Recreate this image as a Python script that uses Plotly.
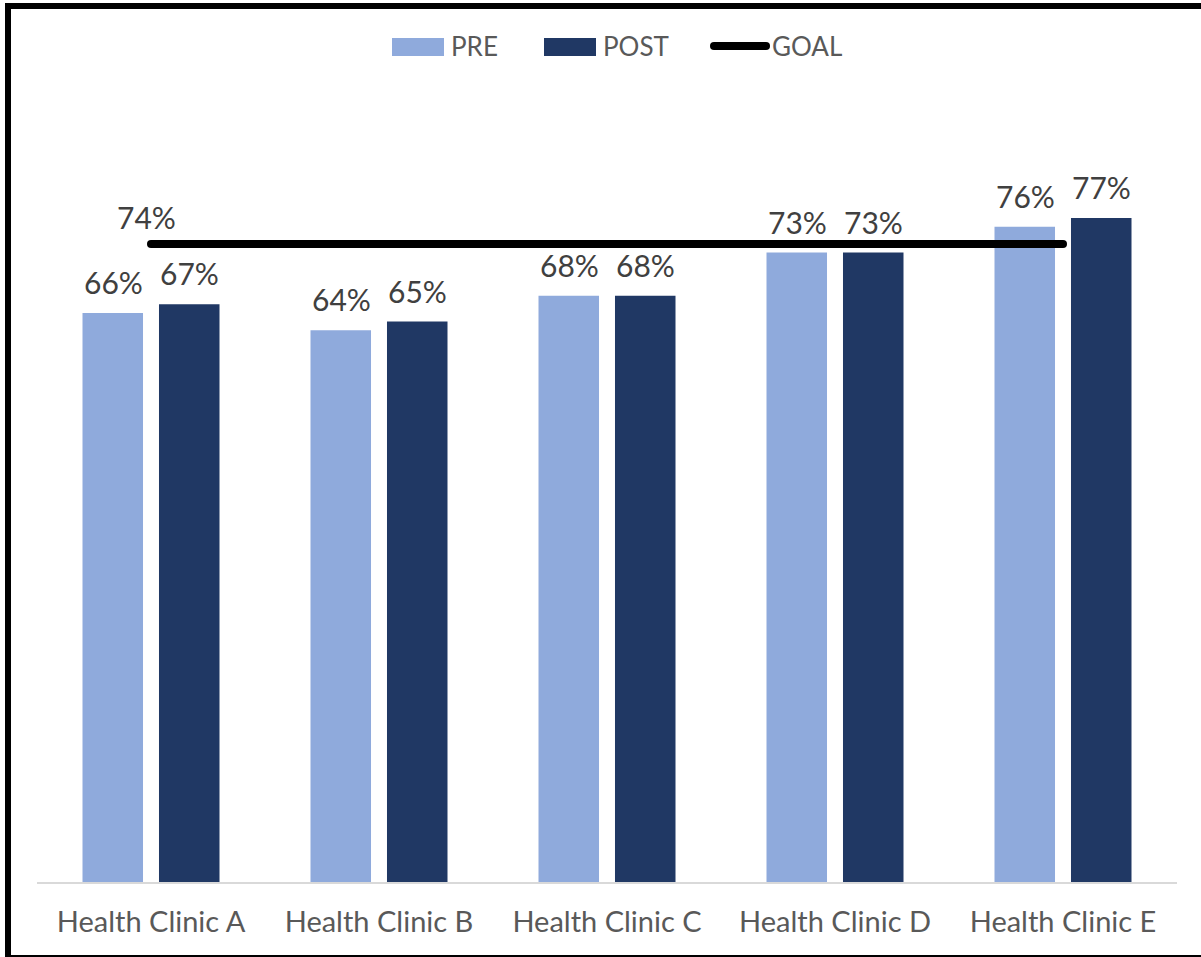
import plotly.graph_objects as go

# ---- data ----
clinics = ["Health Clinic A", "Health Clinic B", "Health Clinic C", "Health Clinic D", "Health Clinic E"]
pre_values = [0.66, 0.64, 0.68, 0.73, 0.76]
post_values = [0.67, 0.65, 0.68, 0.73, 0.77]
goal_value = 0.74
series_names = ["PRE", "POST", "GOAL"]

# ---- style ----
PRE_COLOR = "#8FAADC"
POST_COLOR = "#203864"
GOAL_COLOR = "#000000"
AXIS_TEXT = "#595959"
LABEL_TEXT = "#404040"
FONT = "Lato"

W, H = 1201, 957
ML, MR, MT, MB = 37, 24, 106, 75
PW, PH = W - ML - MR, H - MT - MB


def px_x(px):
    return (px - ML) / PW


def px_y(py):
    return (H - MB - py) / PH


fig = go.Figure()
fig.add_trace(go.Bar(x=clinics, y=pre_values, name=series_names[0],
                     marker=dict(color=PRE_COLOR, line=dict(width=0)), showlegend=False))
fig.add_trace(go.Bar(x=clinics, y=post_values, name=series_names[1],
                     marker=dict(color=POST_COLOR, line=dict(width=0)), showlegend=False))
fig.add_trace(go.Scatter(x=clinics, y=[goal_value] * len(clinics), name=series_names[2],
                         mode="lines+markers", line=dict(color=GOAL_COLOR, width=8),
                         marker=dict(color=GOAL_COLOR, size=8), showlegend=False,
                         cliponaxis=False))

annotations = []
# value labels above each bar
for vals, shift in ((pre_values, -38), (post_values, 38)):
    for c, v in zip(clinics, vals):
        annotations.append(dict(x=c, y=v, xref="x", yref="y", text=f"{v:.0%}",
                                showarrow=False, xshift=shift, yanchor="bottom", yshift=11,
                                font=dict(family=FONT, size=30, color=LABEL_TEXT)))
# goal label on the first point
annotations.append(dict(x=clinics[0], y=goal_value, xref="x", yref="y", text=f"{goal_value:.0%}",
                        showarrow=False, xshift=-5, yanchor="bottom", yshift=7,
                        font=dict(family=FONT, size=30, color=LABEL_TEXT)))

# legend drawn as swatches + text along the top
legend_font = dict(family=FONT, size=26, color=AXIS_TEXT)
shapes = []
for (x0, x1, tx), name, color in (((392, 444, 449), series_names[0], PRE_COLOR),
                                  ((544, 596, 601), series_names[1], POST_COLOR)):
    shapes.append(dict(type="rect", xref="paper", yref="paper", x0=px_x(x0), x1=px_x(x1),
                       y0=px_y(56), y1=px_y(38), fillcolor=color, line=dict(width=0)))
    annotations.append(dict(x=px_x(tx), y=px_y(46), xref="paper", yref="paper", text=name,
                            showarrow=False, xanchor="left", yanchor="middle", font=legend_font))
shapes.append(dict(type="line", xref="paper", yref="paper", x0=px_x(714), x1=px_x(766),
                   y0=px_y(46), y1=px_y(46), line=dict(color=GOAL_COLOR, width=8)))
for cx in (714, 766):
    shapes.append(dict(type="circle", xref="paper", yref="paper", x0=px_x(cx - 4), x1=px_x(cx + 4),
                       y0=px_y(50), y1=px_y(42), fillcolor=GOAL_COLOR, line=dict(width=0)))
annotations.append(dict(x=px_x(770), y=px_y(46), xref="paper", yref="paper", text=series_names[2],
                        showarrow=False, xanchor="left", yanchor="middle", font=legend_font))

# outer frame: heavy top and left edges, thin bottom edge
shapes.append(dict(type="rect", xref="paper", yref="paper", x0=px_x(5), x1=px_x(W + 2),
                   y0=px_y(9), y1=px_y(3), fillcolor="#000000", line=dict(width=0)))
shapes.append(dict(type="rect", xref="paper", yref="paper", x0=px_x(5), x1=px_x(11),
                   y0=px_y(H + 2), y1=px_y(3), fillcolor="#000000", line=dict(width=0)))
shapes.append(dict(type="rect", xref="paper", yref="paper", x0=px_x(5), x1=px_x(W + 2),
                   y0=px_y(957), y1=px_y(955), fillcolor="#000000", line=dict(width=0)))

fig.update_layout(
    width=W, height=H,
    margin=dict(l=ML, r=MR, t=MT, b=MB, pad=0),
    paper_bgcolor="white", plot_bgcolor="white",
    barmode="group", bargap=0.329, bargroupgap=0.209,
    showlegend=False,
    annotations=annotations, shapes=shapes,
    font=dict(family=FONT, color=AXIS_TEXT),
)
fig.update_xaxes(showline=True, linecolor="#D9D9D9", linewidth=2, showgrid=False,
                 ticks="", tickfont=dict(family=FONT, size=29, color=AXIS_TEXT),
                 ticklabelstandoff=13)
fig.update_yaxes(range=[0, 0.9], visible=False, showgrid=False, zeroline=False)

fig.write_html("out.html")
